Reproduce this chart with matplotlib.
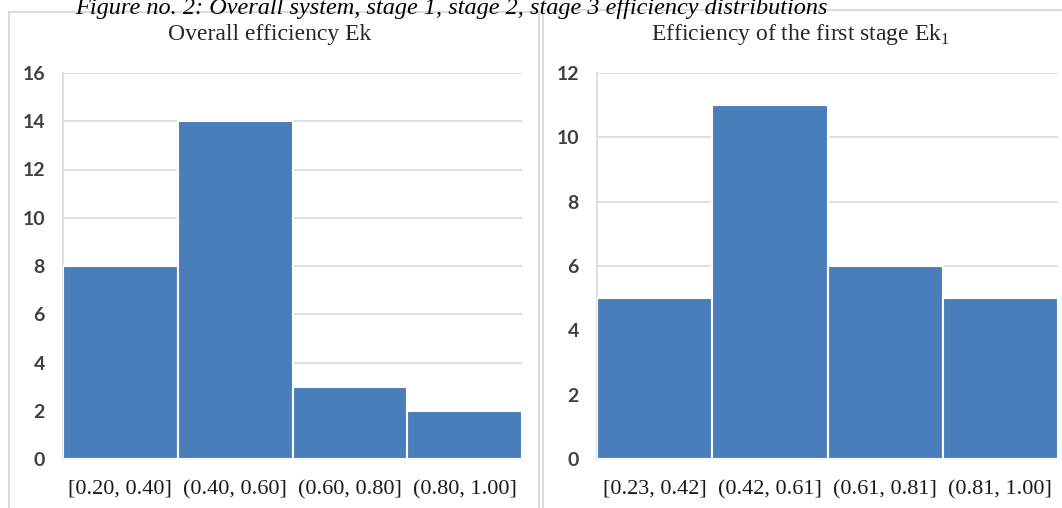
import matplotlib
matplotlib.use("Agg")
import matplotlib.pyplot as plt
from matplotlib.patches import Rectangle

plt.rcParams['mathtext.fontset'] = 'custom'
plt.rcParams['mathtext.rm'] = 'Liberation Serif'

caption = "Figure no. 2: Overall system, stage 1, stage 2, stage 3 efficiency distributions"

left_title = "Overall efficiency Ek"
left_bins = ["[0.20, 0.40]", "(0.40, 0.60]", "(0.60, 0.80]", "(0.80, 1.00]"]
left_counts = [8, 14, 3, 2]
left_yticks = [0, 2, 4, 6, 8, 10, 12, 14, 16]

right_title = r"Efficiency of the first stage Ek$_\mathregular{1}$"
right_bins = ["[0.23, 0.42]", "(0.42, 0.61]", "(0.61, 0.81]", "(0.81, 1.00]"]
right_counts = [5, 11, 6, 5]
right_yticks = [0, 2, 4, 6, 8, 10, 12]

W, H = 1062, 508
fig = plt.figure(figsize=(W / 100, H / 100), dpi=100)
fig.patch.set_facecolor('white')

BAR = '#4a7ebb'
GRID = '#d9d9d9'
TICKC = '#404040'


def px(x0, y0, x1, y1):
    return [x0 / W, 1 - y1 / H, (x1 - x0) / W, (y1 - y0) / H]


# panel borders
fig.patches.append(Rectangle((9 / W, -0.05), (539 - 9) / W, 1.05 - 12 / H,
                             transform=fig.transFigure, fill=False,
                             edgecolor='#d4d4d4', lw=1.2))
fig.patches.append(Rectangle((543 / W, -0.05), 0.5, 1.05 - 10 / H,
                             transform=fig.transFigure, fill=False,
                             edgecolor='#d4d4d4', lw=1.2))

fig.text(75 / W, 1 - 14 / H, caption, family='Liberation Serif', style='italic',
         fontsize=17.5, ha='left', va='baseline', color='black')


def panel(rect, cats, vals, yticks, title, title_x):
    ax = fig.add_axes(rect)
    x = list(range(len(cats)))
    ax.bar(x, vals, width=1.0, color=BAR, edgecolor='white', linewidth=1.5, zorder=3)
    ax.set_xlim(-0.5, len(cats) - 0.5)
    ax.set_ylim(yticks[0], yticks[-1])
    ax.set_yticks(yticks)
    ax.set_xticks(x)
    ax.set_xticklabels(cats, family='Liberation Serif', fontsize=16, color='#1a1a1a')
    ax.set_yticklabels([str(t) for t in yticks], family='Lato', fontsize=14,
                       color=TICKC, fontweight='bold')
    ax.grid(axis='y', color=GRID, lw=1.2, zorder=0)
    ax.set_axisbelow(True)
    for s in ['top', 'right', 'bottom']:
        ax.spines[s].set_visible(False)
    ax.spines['left'].set_color(GRID)
    ax.spines['left'].set_linewidth(1.2)
    ax.tick_params(axis='both', length=0)
    ax.tick_params(axis='y', pad=13)
    ax.tick_params(axis='x', pad=15)
    fig.text(title_x / W, 1 - 40 / H, title, family='Liberation Serif', fontsize=17,
             ha='center', va='baseline', color='#262626')
    return ax


panel(px(63, 73, 522, 459), left_bins, left_counts, left_yticks, left_title, 270)
panel(px(597, 73, 1058, 459), right_bins, right_counts, right_yticks, right_title, 800)

fig.savefig('out.png', dpi=100)
